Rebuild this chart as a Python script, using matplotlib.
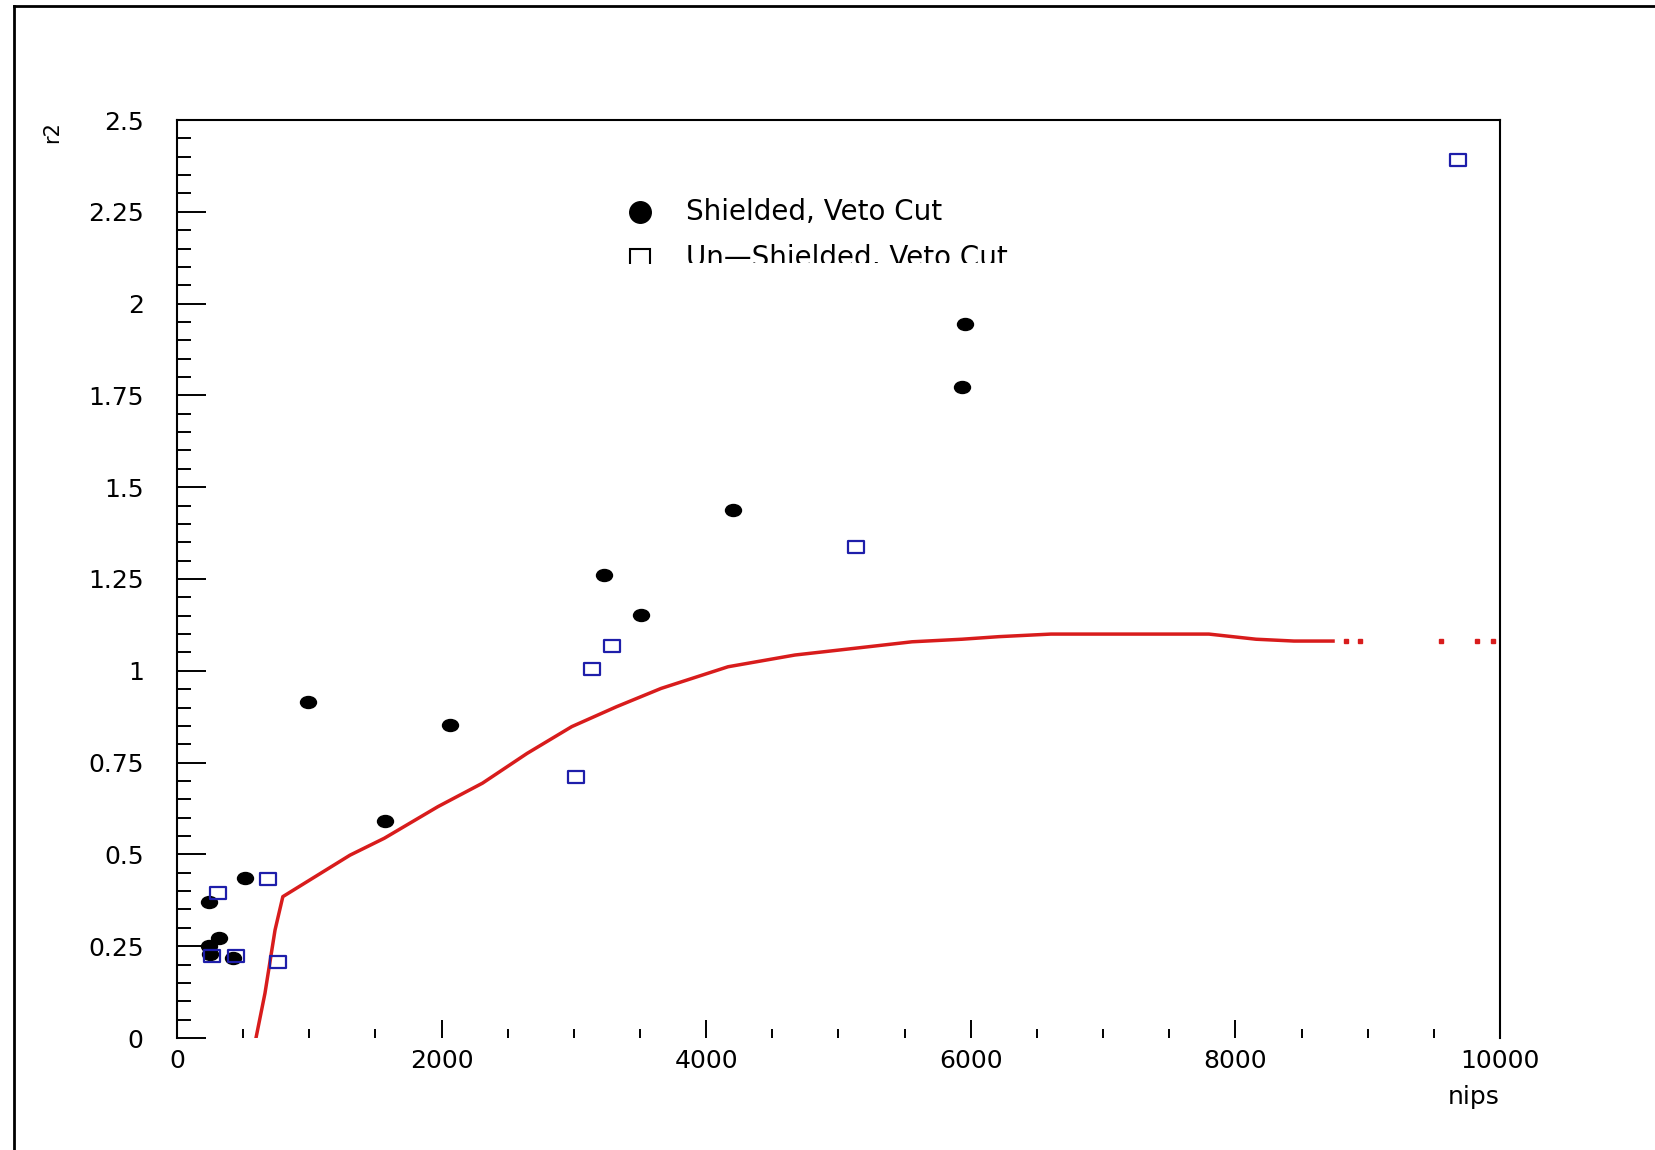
import numpy as np
import matplotlib
matplotlib.use("Agg")
import matplotlib.pyplot as plt
from matplotlib.lines import Line2D
from matplotlib.path import Path
from matplotlib.markers import MarkerStyle
from matplotlib.transforms import Affine2D, Bbox

# shielded, veto cut (filled black)
shield_x = [993, 2061, 1573, 3227, 3506, 4201, 5958, 5935, 514, 244, 320, 240, 250, 425]
shield_y = [0.914, 0.852, 0.590, 1.260, 1.151, 1.438, 1.945, 1.772, 0.435, 0.370, 0.272, 0.250, 0.228, 0.217]

# un-shielded, veto cut (open blue)
unshield_x = [9680, 5136, 3291, 3139, 3019, 690, 312, 262, 446, 766]
unshield_y = [2.392, 1.338, 1.067, 1.004, 0.711, 0.432, 0.394, 0.224, 0.224, 0.206]

# red curve
curve_x = [597, 665, 741, 800, 1308, 1567, 1972, 2309, 2646, 2984, 3321, 3659, 4165, 4671,
           5238, 5556, 5934, 6213, 6606, 7800, 8156, 8443, 8738]
curve_y = [0.0, 0.122, 0.294, 0.385, 0.498, 0.544, 0.630, 0.694, 0.775, 0.848, 0.902, 0.952,
           1.011, 1.043, 1.066, 1.079, 1.086, 1.093, 1.100, 1.100, 1.086, 1.081, 1.081]
tail_x = [8836, 8942, 9554, 9826, 9947]
tail_y = [1.081, 1.081, 1.081, 1.081, 1.081]

W, H = 1656, 1150
fig = plt.figure(figsize=(W / 100, H / 100), dpi=100)
ax = fig.add_axes([177 / W, 1 - 1038 / H, (1500 - 177) / W, (1038 - 120) / H])

# markers a bit wider than tall, like the original
ell = Path.unit_circle().transformed(Affine2D().scale(1.0, 0.75))
rect = Path([(-1, -0.7), (1, -0.7), (1, 0.7), (-1, 0.7), (-1, -0.7)],
            [Path.MOVETO, Path.LINETO, Path.LINETO, Path.LINETO, Path.CLOSEPOLY])

ax.plot(curve_x, curve_y, color='#d81c1c', lw=2.5, solid_joinstyle='round', zorder=2)
ax.plot(tail_x, tail_y, ls='none', marker='s', ms=2.2, color='#d81c1c', zorder=2)
ax.plot(shield_x, shield_y, ls='none', marker=MarkerStyle(ell), ms=11.5, color='black', zorder=3)
ax.plot(unshield_x, unshield_y, ls='none', marker=MarkerStyle(rect), ms=12,
        mfc='none', mec='#1e1eaa', mew=1.6, zorder=4)

ax.set_xlim(0, 10000)
ax.set_ylim(0, 2.5)
ax.set_xticks(np.arange(0, 10001, 2000))
ax.set_xticks(np.arange(0, 10001, 500), minor=True)
ax.set_yticks(np.arange(0, 2.51, 0.25))
ax.set_yticks(np.arange(0, 2.51, 0.05), minor=True)
ax.set_xticklabels(['0', '2000', '4000', '6000', '8000', '10000'])
ax.set_yticklabels(['0', '0.25', '0.5', '0.75', '1', '1.25', '1.5', '1.75', '2', '2.25', '2.5'])

ax.tick_params(axis='y', which='major', direction='in', length=21, width=1.4, pad=24, labelsize=18)
ax.tick_params(axis='y', which='minor', direction='in', length=10, width=1.4)
ax.tick_params(axis='x', which='major', direction='in', length=13, width=1.4, pad=8, labelsize=18)
ax.tick_params(axis='x', which='minor', direction='in', length=6.5, width=1.4)
ax.tick_params(top=False, right=False, which='both')

for s in ['left', 'top', 'right']:
    ax.spines[s].set_linewidth(1.5)
ax.spines['bottom'].set_visible(False)

fig.text(1500 / W, 1 - 1097 / H, 'nips', ha='right', va='center', fontsize=18)
fig.text(52 / W, 1 - 132 / H, 'r2', ha='center', va='center', rotation=90, fontsize=15)

# legend drawn by hand, bottom row is clipped like in the original
clip = Bbox.from_extents(0, H - 263, W, H)
m1 = Line2D([640 / W], [1 - 212 / H], transform=fig.transFigure, ls='none',
            marker='o', ms=15.5, color='black')
m2 = Line2D([640 / W], [1 - 259 / H], transform=fig.transFigure, ls='none',
            marker='s', ms=15, mfc='none', mec='black', mew=1.5)
for m in (m1, m2):
    m.set_clip_box(clip)
    m.set_clip_on(True)
    fig.add_artist(m)
t1 = fig.text(686 / W, 1 - 212 / H, 'Shielded, Veto Cut', ha='left', va='center', fontsize=20)
t2 = fig.text(686 / W, 1 - 258 / H, 'Un\u2014Shielded, Veto Cut', ha='left', va='center', fontsize=20)
for t in (t1, t2):
    t.set_clip_box(clip)
    t.set_clip_on(True)

# outer frame (left and top only visible)
fx, fy = 14 / W, 1 - 6 / H
fig.add_artist(Line2D([fx, fx], [0, fy], transform=fig.transFigure, color='black', lw=2))
fig.add_artist(Line2D([fx, 1], [fy, fy], transform=fig.transFigure, color='black', lw=2))

fig.savefig('out.png', dpi=100)
